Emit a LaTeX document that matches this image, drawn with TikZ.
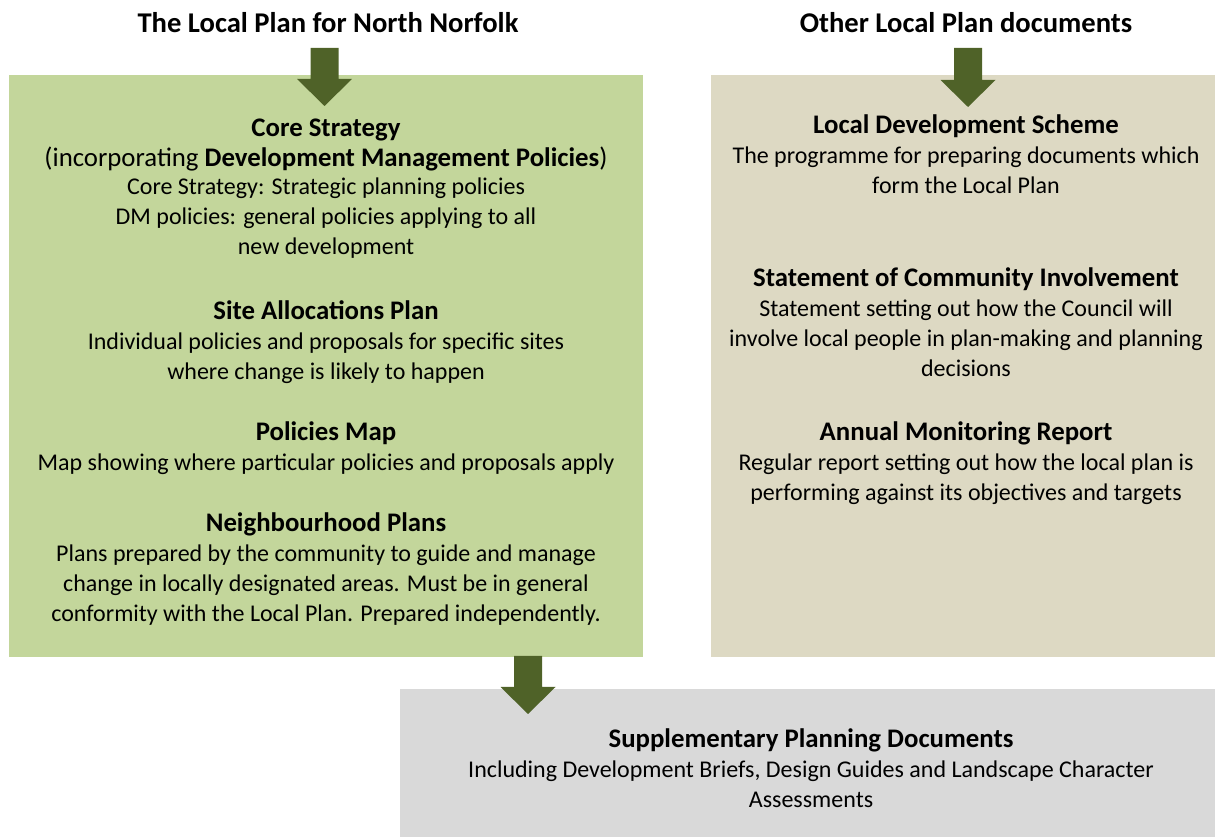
\documentclass[tikz,border=0pt]{standalone}
\usepackage{fontspec}
\setmainfont{Carlito}
\definecolor{planGreen}{HTML}{C3D69B}
\definecolor{otherTan}{HTML}{DDD9C3}
\definecolor{spdGrey}{HTML}{D9D9D9}
\definecolor{arrowOlive}{HTML}{4F6228}
\newcommand{\hdfont}{\fontsize{13.4}{16}\selectfont}
\newcommand{\hd}[1]{{\hdfont\bfseries #1}}
\tikzset{
  txt/.style={align=center, inner sep=0pt, anchor=base, font=\fontsize{12}{15}\selectfont},
  ttl/.style={inner sep=0pt, anchor=base, font=\fontsize{14.3}{17}\selectfont\bfseries}
}
\newcommand{\downarrowat}[3]{% centre x, shaft top, tip
  \fill[arrowOlive] (#1-14,#2) -- (#1+14,#2) -- (#1+14,#3-27) -- (#1+27.5,#3-27)
    -- (#1,#3) -- (#1-27.5,#3-27) -- (#1-14,#3-27) -- cycle;}
\begin{document}
\begin{tikzpicture}[x=0.5pt,y=-0.5pt]
\useasboundingbox (0,0) rectangle (1215,838);
% boxes
\fill[planGreen] (9,75) rectangle (643,657);
\fill[otherTan] (711,75) rectangle (1215,657);
\fill[spdGrey] (400,689) rectangle (1215,837);
% titles
\node[ttl] (tLocal) at (328,33) {The Local Plan for North Norfolk};
\node[ttl] (tOther) at (966,33) {Other Local Plan documents};
% arrows
\downarrowat{324.5}{48}{106}
\downarrowat{968}{48}{107}
\downarrowat{528}{656}{714}
% left box (base = last line)
\node[txt] (core) at (326,255) {\hd{Core Strategy}\\{\hdfont(incorporating \textbf{Development Management Policies})}\\[-1pt]Core Strategy: Strategic planning policies\\DM policies: general policies applying to all\\new development};
\node[txt] (site) at (326,380) {\hd{Site Allocations Plan}\\Individual policies and proposals for specific sites\\where change is likely to happen};
\node[txt] (pmap) at (326,471) {\hd{Policies Map}\\Map showing where particular policies and proposals apply};
\node[txt] (nplan) at (326,622) {\hd{Neighbourhood Plans}\\Plans prepared by the community to guide and manage\\change in locally designated areas. Must be in general\\conformity with the Local Plan. Prepared independently.};
% right box
\node[txt] (lds) at (966,194) {\hd{Local Development Scheme}\\The programme for preparing documents which\\form the Local Plan};
\node[txt] (sci) at (966,377) {\hd{Statement of Community Involvement}\\Statement setting out how the Council will\\involve local people in plan-making and planning\\decisions};
\node[txt] (amr) at (966,501) {\hd{Annual Monitoring Report}\\Regular report setting out how the local plan is\\performing against its objectives and targets};
% bottom box
\node[txt] (spd) at (811,807) {\hd{Supplementary Planning Documents}\\Including Development Briefs, Design Guides and Landscape Character\\Assessments};
\end{tikzpicture}
\end{document}
